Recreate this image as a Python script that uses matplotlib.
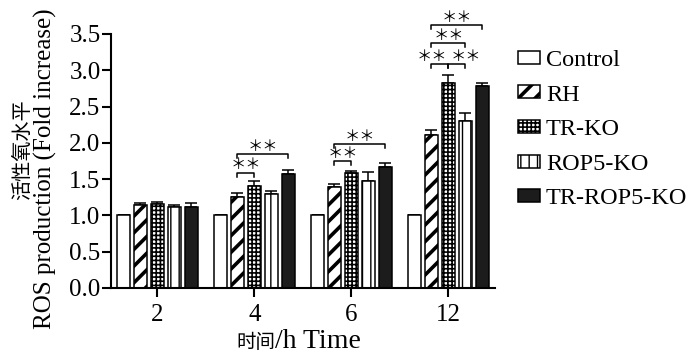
import numpy as np
import matplotlib
matplotlib.use('Agg')
import matplotlib.pyplot as plt

# Values (fold increase of ROS)
time_labels = ['2', '4', '6', '12']
group_names = ['Control', 'RH', 'TR-KO', 'ROP5-KO', 'TR-ROP5-KO']

control = [1.00, 1.00, 1.00, 1.00]
control_err = [0.01, 0.01, 0.01, 0.01]
rh = [1.15, 1.26, 1.39, 2.11]
rh_err = [0.02, 0.05, 0.04, 0.07]
trko = [1.16, 1.41, 1.59, 2.83]
trko_err = [0.02, 0.06, 0.02, 0.11]
rop5 = [1.12, 1.30, 1.48, 2.30]
rop5_err = [0.03, 0.03, 0.12, 0.11]
trrop5 = [1.12, 1.57, 1.67, 2.79]
trrop5_err = [0.05, 0.05, 0.05, 0.03]

# significance brackets: (time index, bar a, bar b, height, bar the stars sit over or None)
sig_brackets = [
    (1, 1, 2, 1.59, None),
    (1, 1, 4, 1.85, None),
    (2, 1, 2, 1.75, None),
    (2, 1, 4, 1.98, None),
    (3, 1, 2, 3.08, 1),
    (3, 2, 3, 3.08, 3),
    (3, 1, 3, 3.37, None),
    (3, 1, 4, 3.62, None),
]

SERIF = 'Liberation Serif'
CJK = 'Noto Sans CJK SC'
plt.rcParams['font.family'] = [SERIF, CJK]

fig = plt.figure(figsize=(7.0, 3.55), dpi=100)
ax = fig.add_axes([111 / 700, 1 - 288 / 355, 384 / 700, 254 / 355])

series = [control, rh, trko, rop5, trrop5]
errors = [control_err, rh_err, trko_err, rop5_err, trrop5_err]
styles = [
    dict(facecolor='white', hatch=None, hlw=1.0),
    dict(facecolor='white', hatch='//', hlw=2.6),
    dict(facecolor='white', hatch='++++', hlw=1.2),
    dict(facecolor='white', hatch='||', hlw=1.0),
    dict(facecolor='#1c1c1c', hatch=None, hlw=1.0),
]

x = np.arange(len(time_labels))
pitch = 0.175
width = 0.135

handles = []
for k, (vals, errs, st) in enumerate(zip(series, errors, styles)):
    pos = x + (k - 2) * pitch
    with plt.rc_context({'hatch.linewidth': st['hlw'], 'hatch.color': 'black'}):
        bars = ax.bar(pos, vals, width, facecolor=st['facecolor'], edgecolor='black',
                      linewidth=1.1, hatch=st['hatch'], label=group_names[k], zorder=2)
    for b in bars:
        if hasattr(b, 'set_hatch_linewidth'):
            b.set_hatch_linewidth(st['hlw'])
    ax.errorbar(pos, vals, yerr=[np.zeros(len(vals)), errs], fmt='none', ecolor='black',
                elinewidth=1.1, capsize=4.5, capthick=1.1, zorder=1)
    handles.append(bars)

# brackets with stars
tick_h = 0.055
for g, a, b, h, star_bar in sig_brackets:
    xa = x[g] + (a - 2) * pitch
    xb = x[g] + (b - 2) * pitch
    ax.plot([xa, xa, xb, xb], [h - tick_h, h, h, h - tick_h], color='black',
            lw=1.1, clip_on=False, zorder=3)
    sx = (xa + xb) / 2 if star_bar is None else x[g] + (star_bar - 2) * pitch
    ax.text(sx, h + 0.105, '\uff0a\uff0a', ha='center', va='center', fontsize=11,
            family=CJK, clip_on=False)

ax.set_xlim(-0.479, 3.48)
ax.set_ylim(0, 3.5)
ax.set_yticks(np.arange(0, 3.51, 0.5))
ax.set_yticklabels([f'{v:.1f}' for v in np.arange(0, 3.51, 0.5)])
ax.set_xticks(x)
ax.set_xticklabels(time_labels)
for side in ['top', 'right']:
    ax.spines[side].set_visible(False)
for side in ['left', 'bottom']:
    ax.spines[side].set_linewidth(1.5)
ax.tick_params(axis='both', length=6.5, width=1.5, labelsize=18, color='black')
ax.tick_params(axis='y', pad=1)
ax.tick_params(axis='x', pad=5)
for lab in ax.get_xticklabels() + ax.get_yticklabels():
    lab.set_family(SERIF)

# axis titles
fig.text(23 / 700, 1 - 150 / 355, '活性氧水平', rotation=90, ha='center', va='center',
         fontsize=14.5, family=CJK)
fig.text(45 / 700, 1 - 169 / 355, 'ROS production (Fold increase)', rotation=90,
         ha='center', va='center', fontsize=18, family=SERIF)
fig.text(275 / 700, 1 - 348 / 355, '时间', ha='right', va='baseline', fontsize=14, family=CJK)
fig.text(275 / 700, 1 - 348 / 355, '/h Time', ha='left', va='baseline', fontsize=20, family=SERIF)

leg = fig.legend(handles=handles, labels=group_names, loc='upper left',
                 bbox_to_anchor=(518 / 700, 1 - 50 / 355), frameon=False,
                 prop={'family': SERIF, 'size': 17.5}, handlelength=0.9, handleheight=0.45,
                 handletextpad=0.25, labelspacing=0.56, borderpad=0, borderaxespad=0)
for hnd, st in zip(leg.legend_handles, styles):
    if hasattr(hnd, 'set_hatch_linewidth'):
        hnd.set_hatch_linewidth(st['hlw'])

fig.savefig('out.png', dpi=100)
